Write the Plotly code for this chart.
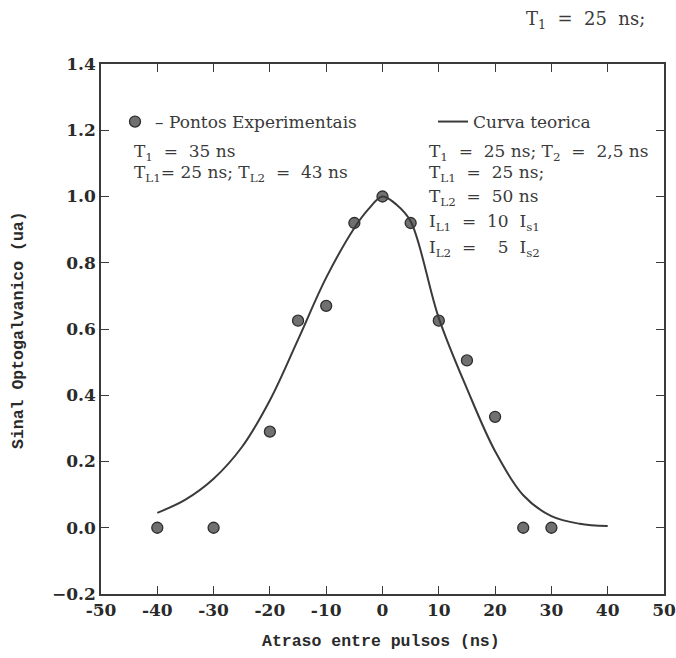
import plotly.graph_objects as go

# Experimental points
exp_x = [-40, -30, -20, -15, -10, -5, 0, 5, 10, 15, 20, 25, 30]
exp_y = [0.0, 0.0, 0.29, 0.625, 0.67, 0.92, 1.0, 0.92, 0.625, 0.505, 0.335, 0.0, 0.0]

# Theoretical curve
th_x = [-40, -35, -30, -25, -20, -15, -10, -5, -2.5, 0, 2.5, 5, 10, 15, 20, 25, 30, 35, 40]
th_y = [0.045, 0.085, 0.148, 0.243, 0.385, 0.568, 0.755, 0.905, 0.962, 1.0, 0.975, 0.925, 0.633, 0.42, 0.231, 0.098, 0.035, 0.012, 0.005]

x_ticks = [-50, -40, -30, -20, -10, 0, 10, 20, 30, 40, 50]
y_ticks = [-0.2, 0.0, 0.2, 0.4, 0.6, 0.8, 1.0, 1.2, 1.4]

ink = "#3a3a3a"
serif = "DejaVu Serif"
mono = "Liberation Mono"
sp = "&nbsp;"

W, H = 676, 658
L, R, T, B = 101, 12, 64, 64
pw, ph = W - L - R, H - T - B

def px2paper(x, y):
    return (x - L) / pw, (H - B - y) / ph

fig = go.Figure()
fig.add_trace(go.Scatter(
    x=exp_x, y=exp_y, mode="markers", name="– " + "Pontos Experimentais",
    marker=dict(size=11, color="#707070", line=dict(color="#2e2e2e", width=1.3)),
    legend="legend",
))
fig.add_trace(go.Scatter(
    x=th_x, y=th_y, mode="lines", name="Curva teorica",
    line=dict(color=ink, width=2, shape="spline", smoothing=1.0),
    legend="legend2",
))

eq = sp + "=" + sp + sp
left_lines = [
    "T<sub>1</sub>" + sp + eq + "35" + sp + "ns",
    "T<sub>L1</sub>=" + sp + "25" + sp + "ns;" + sp + "T<sub>L2</sub>" + sp + eq + "43" + sp + "ns",
]
left_y = [152, 174]
right_lines = [
    "T<sub>1</sub>" + sp + eq + "25" + sp + "ns;" + sp + "T<sub>2</sub>" + sp + eq + "2,5" + sp + "ns",
    "T<sub>L1</sub>" + sp + eq + "25" + sp + "ns;",
    "T<sub>L2</sub>" + sp + eq + "50" + sp + "ns",
    "I<sub>L1</sub>" + sp + eq + "10" + sp + sp + "I<sub>s1</sub>",
    "I<sub>L2</sub>" + sp + eq + sp + sp + "5" + sp + sp + "I<sub>s2</sub>",
]
right_y = [152, 174, 197, 222, 248]

annotations = []
for txt, yy in zip(left_lines, left_y):
    ax, ay = px2paper(132, yy)
    annotations.append(dict(x=ax, y=ay, xref="paper", yref="paper", text=txt,
                            showarrow=False, xanchor="left", yanchor="middle",
                            font=dict(family=serif, size=17, color=ink)))
for txt, yy in zip(right_lines, right_y):
    ax, ay = px2paper(427, yy)
    annotations.append(dict(x=ax, y=ay, xref="paper", yref="paper", text=txt,
                            showarrow=False, xanchor="left", yanchor="middle",
                            font=dict(family=serif, size=17, color=ink)))
ax, ay = px2paper(524, 20)
annotations.append(dict(x=ax, y=ay, xref="paper", yref="paper",
                        text="T<sub>1</sub>" + sp + eq + "25" + sp + sp + "ns;",
                        showarrow=False, xanchor="left", yanchor="middle",
                        font=dict(family=serif, size=18, color=ink)))
# axis titles
ax, ay = px2paper(381, 641)
annotations.append(dict(x=ax, y=ay, xref="paper", yref="paper",
                        text="<b>Atraso entre pulsos (ns)</b>", showarrow=False,
                        xanchor="center", yanchor="middle",
                        font=dict(family=mono, size=16.5, color="#2a2a2a")))
ax, ay = px2paper(18, 330)
annotations.append(dict(x=ax, y=ay, xref="paper", yref="paper", textangle=-90,
                        text="<b>Sinal Optogalvanico (ua)</b>", showarrow=False,
                        xanchor="center", yanchor="middle",
                        font=dict(family=mono, size=16.5, color="#2a2a2a")))

l1x, l1y = px2paper(115, 122)
l2x, l2y = px2paper(433, 122)
legend_common = dict(xanchor="left", yanchor="middle", bgcolor="rgba(0,0,0,0)",
                     font=dict(family=serif, size=17, color=ink), itemwidth=30)
fig.update_layout(
    width=W, height=H,
    margin=dict(l=L, r=R, t=T, b=B),
    paper_bgcolor="white", plot_bgcolor="white",
    showlegend=True,
    legend=dict(x=l1x, y=l1y, **legend_common),
    legend2=dict(x=l2x, y=l2y, **legend_common),
    annotations=annotations,
)
axis_common = dict(
    showgrid=False, zeroline=False, showline=True, linecolor=ink, linewidth=1.6,
    mirror="ticks", ticks="inside", ticklen=8, tickwidth=1.4, tickcolor=ink,
    automargin=False,
    tickfont=dict(family=serif, size=17, color="#2a2a2a", weight="bold"),
)
fig.update_xaxes(range=[-50, 50], tickvals=x_ticks, ticktext=[str(v) for v in x_ticks],
                 **axis_common)
fig.update_yaxes(range=[-0.2, 1.4], tickvals=y_ticks, tickformat=".1f",
                 **axis_common)

fig.write_html("out.html", config={"displayModeBar": False},
               post_script="document.body.style.margin='0';document.body.style.overflow='hidden';")
